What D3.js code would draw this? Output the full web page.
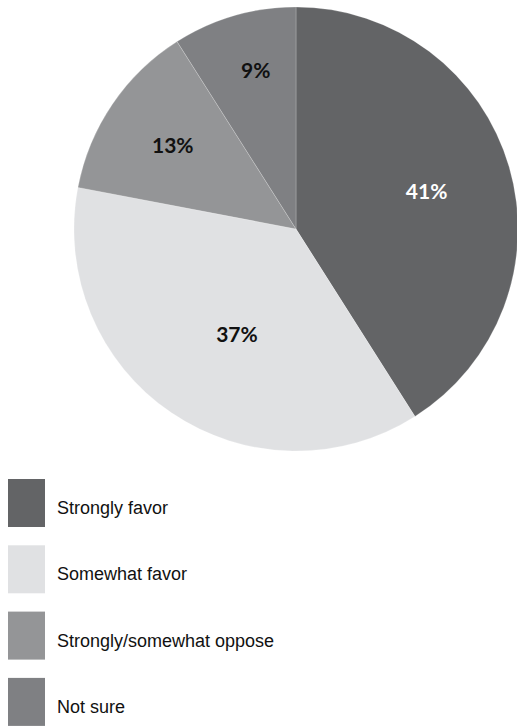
<!DOCTYPE html>
<html>
<head>
<meta charset="utf-8">
<script src="https://cdn.jsdelivr.net/npm/d3@7"></script>
<style>
  html, body { margin: 0; padding: 0; background: #fff; }
  svg { display: block; }
</style>
</head>
<body>
<div id="chart"></div>
<script>
// Survey responses, in percent
const categories = ["Strongly favor", "Somewhat favor", "Strongly/somewhat oppose", "Not sure"];
const values = [41, 37, 13, 9];
const colors = ["#636466", "#e0e1e3", "#949597", "#7f8083"];
const labelColors = ["#ffffff", "#111111", "#111111", "#111111"];

// Label placement: distance from centre and angular nudge (degrees)
const labelRadius = [136, 121, 149, 164];
const labelNudge = [0, -5, 0, 2];

const W = 517, H = 726;
const cx = 296, cy = 229, R = 222;

const svg = d3.select("#chart").append("svg")
  .attr("width", W).attr("height", H);

const pie = d3.pie().sort(null).value(d => d)(values);
const arc = d3.arc().innerRadius(0).outerRadius(R);

const g = svg.append("g").attr("transform", `translate(${cx},${cy})`);

g.selectAll("path.slice")
  .data(pie)
  .join("path")
  .attr("class", "slice")
  .attr("d", arc)
  .attr("fill", (d, i) => colors[i])
  .attr("stroke", "rgba(255,255,255,0.35)")
  .attr("stroke-width", 0.6);

g.selectAll("text.pct")
  .data(pie)
  .join("text")
  .attr("class", "pct")
  .attr("transform", (d, i) => {
    const a = (d.startAngle + d.endAngle) / 2 + labelNudge[i] * Math.PI / 180;
    const r = labelRadius[i];
    return `translate(${r * Math.sin(a)},${-r * Math.cos(a)})`;
  })
  .attr("text-anchor", "middle")
  .attr("dy", "0.36em")
  .attr("fill", (d, i) => labelColors[i])
  .style("font-family", "Lato, 'Open Sans', sans-serif")
  .style("font-weight", 700)
  .style("font-size", "21px")
  .text(d => d.data + "%");

// Legend
const legend = svg.append("g").attr("transform", "translate(8,479)");
const row = legend.selectAll("g.item")
  .data(categories)
  .join("g")
  .attr("class", "item")
  .attr("transform", (d, i) => `translate(0,${i * 66.3})`);

row.append("rect")
  .attr("width", 37).attr("height", 48)
  .attr("fill", (d, i) => colors[i]);

row.append("text")
  .attr("x", 49).attr("y", 35)
  .attr("fill", "#111")
  .style("font-family", "'Liberation Sans', Arial, sans-serif")
  .style("font-size", "18px")
  .text(d => d);
</script>
</body>
</html>
